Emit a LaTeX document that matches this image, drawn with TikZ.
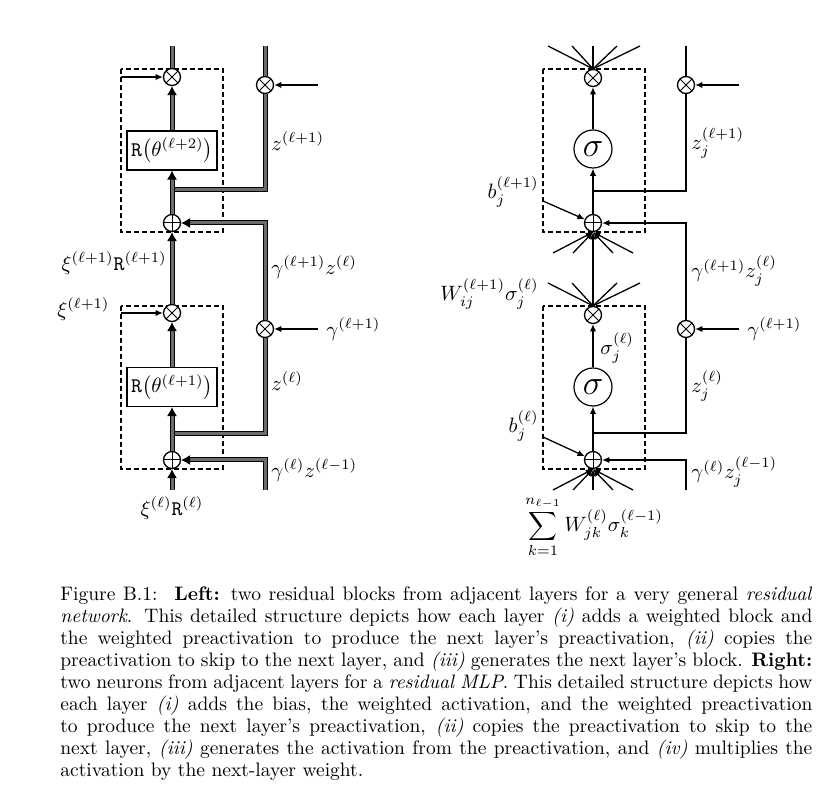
\RequirePackage{fix-cm}
\documentclass[tikz,border=0pt]{standalone}
\usepackage{fontspec}
\usetikzlibrary{arrows.meta}
\begin{document}
\begin{tikzpicture}[x=0.5pt,y=-0.5pt,
  thk/.style={draw=black, line width=0.5pt, double=gray!85!black, double distance=1.5pt},
  thn/.style={draw=black, line width=0.65pt},
  tipk/.style={-{Latex[length=4.5pt,width=5pt]}},
  tipn/.style={-{Latex[length=3.6pt,width=3.2pt]}},
  ox/.style={circle, draw, line width=0.65pt, minimum size=8.5pt, inner sep=0pt, fill=white,
    path picture={\draw[line width=0.5pt] (path picture bounding box.north west) -- (path picture bounding box.south east) (path picture bounding box.north east) -- (path picture bounding box.south west);}},
  op/.style={circle, draw, line width=0.65pt, minimum size=8.5pt, inner sep=0pt, fill=white,
    path picture={\draw[line width=0.5pt] (path picture bounding box.north) -- (path picture bounding box.south) (path picture bounding box.east) -- (path picture bounding box.west);}},
  sig/.style={circle, draw, line width=0.6pt, minimum size=19pt, inner sep=0pt, fill=white, font=\LARGE},
  rbox/.style={draw, line width=0.6pt, minimum width=45pt, minimum height=19.5pt, inner sep=0pt, fill=white, font=\fontsize{10.4}{12}\selectfont},
  dbox/.style={draw, line width=0.6pt, dash pattern=on 2.5pt off 1.5pt},
  lbl/.style={inner sep=0pt, font=\fontsize{10.4}{12}\selectfont},
  capt/.style={inner sep=0pt, text width=376pt, align=justify, font=\fontsize{9.75}{11}\selectfont}
]
\useasboundingbox (0,0) rectangle (836,807);

% ---------------- dashed boxes ----------------
\draw[dbox] (121,69) rectangle (223,232);
\draw[dbox] (121,306) rectangle (223,469);
\draw[dbox] (543,69) rectangle (645,232);
\draw[dbox] (543,306) rectangle (645,469);

% ---------------- left diagram: nodes ----------------
\node[ox] (lx1) at (172,77) {};
\node[ox] (lx2) at (265,85) {};
\node[rbox] (lR2) at (172,150.5) {$\mathtt{R}\bigl(\theta^{(\ell+2)}\bigr)$};
\node[op] (lp2) at (172,223) {};
\node[ox] (lx3) at (172,313) {};
\node[ox] (lx4) at (265,329) {};
\node[rbox] (lR1) at (172,387) {$\mathtt{R}\bigl(\theta^{(\ell+1)}\bigr)$};
\node[op] (lp1) at (172,460) {};

\coordinate (lt1) at (172,46);
\coordinate (lt2) at (265,46);
\coordinate (la1) at (121,77);
\coordinate (lb2) at (318,85);
\coordinate (lj2) at (172,190);
\coordinate (la3) at (121,313);
\coordinate (lb4) at (318,329);
\coordinate (lj1) at (172,434);
\coordinate (lbot1) at (172,490);
\coordinate (lbot2) at (265,490);

% branches first, main line over them
\draw[thk] (lj2) -| (lx2.south);
\draw[thk] (lj1) -| (lx4.south);
\draw[thk] (lx1.north) -- (lt1);
\draw[thk] (lx2.north) -- (lt2);
\draw[thk,tipk] (lR2.north) -- (lx1.south);
\draw[thk,tipk] (lp2.north) -- (lR2.south);
\draw[thk,tipk] (lx4.north) |- (lp2.east);
\draw[thk,tipk] (lx3.north) -- (lp2.south);
\draw[thk,tipk] (lR1.north) -- (lx3.south);
\draw[thk,tipk] (lp1.north) -- (lR1.south);
\draw[thk,tipk] (lbot2) |- (lp1.east);
\draw[thk,tipk] (lbot1) -- (lp1.south);

\draw[thn,tipn] (la1) -- (lx1.west);
\draw[thn,tipn] (lb2) -- (lx2.east);
\draw[thn,tipn] (la3) -- (lx3.west);
\draw[thn,tipn] (lb4) -- (lx4.east);

% left labels
\node[lbl, anchor=west] (lz2) at (271,141) {$z^{(\ell+1)}$};
\node[lbl, anchor=east] (lxr) at (167,263) {$\xi^{(\ell+1)}\mathtt{R}^{(\ell+1)}$};
\node[lbl, anchor=west] (lxi) at (57,309) {$\xi^{(\ell+1)}$};
\node[lbl, anchor=west] (lgz) at (271,267) {$\gamma^{(\ell+1)}z^{(\ell)}$};
\node[lbl, anchor=west] (lg) at (326,329) {$\gamma^{(\ell+1)}$};
\node[lbl, anchor=west] (lz1) at (271,381) {$z^{(\ell)}$};
\node[lbl, anchor=west] (lgz0) at (271,470) {$\gamma^{(\ell)}z^{(\ell-1)}$};
\node[lbl] (lxr0) at (172,508) {$\xi^{(\ell)}\mathtt{R}^{(\ell)}$};

% ---------------- right diagram: nodes ----------------
\node[ox] (rx1) at (593,78) {};
\node[ox] (rx2) at (686,85) {};
\node[sig] (rs2) at (593,149) {$\sigma$};
\node[op] (rp2) at (593,223) {};
\node[ox] (rx3) at (593,315) {};
\node[ox] (rx4) at (686,329) {};
\node[sig] (rs1) at (593,387) {$\sigma$};
\node[op] (rp1) at (593,460) {};

\coordinate (rtop2) at (686,46);
\coordinate (rb2in) at (739,85);
\coordinate (rj2) at (593,191);
\coordinate (rbb2) at (543,201);
\coordinate (rb4in) at (739,329);
\coordinate (rj1) at (593,433);
\coordinate (rbb1) at (543,437);
\coordinate (rbot2) at (686,490);

\foreach \x [count=\i] in {548,572,593,617,640} \coordinate (rt\i) at (\x,46);
\foreach \x [count=\i] in {553,573,613,633} \coordinate (ru\i) at (\x,253);
\foreach \x [count=\i] in {548,572,617,640} \coordinate (rw\i) at (\x,283);
\foreach \x [count=\i] in {553,573,593,613,633} \coordinate (rv\i) at (\x,490);

\foreach \i in {1,...,5} \draw[thn] (rx1.north) -- (rt\i);
\draw[thn] (rx2.north) -- (rtop2);
\draw[thn,tipn] (rb2in) -- (rx2.east);
\draw[thn,tipn] (rs2.north) -- (rx1.south);
\draw[thn,tipn] (rp2.north) -- (rs2.south);
\draw[thn] (rj2) -| (rx2.south);
\draw[thn,tipn] (rbb2) -- (rp2);
\draw[thn,tipn] (rx4.north) |- (rp2.east);
\foreach \i in {1,...,4} \draw[thn,tipn] (ru\i) -- (rp2.south);
\draw[thn,tipn] (rx3.north) -- (rp2.south);
\foreach \i in {1,...,4} \draw[thn] (rx3.north) -- (rw\i);
\draw[thn,tipn] (rs1.north) -- (rx3.south);
\draw[thn,tipn] (rb4in) -- (rx4.east);
\draw[thn,tipn] (rp1.north) -- (rs1.south);
\draw[thn] (rj1) -| (rx4.south);
\draw[thn,tipn] (rbb1) -- (rp1);
\draw[thn,tipn] (rbot2) |- (rp1.east);
\foreach \i in {1,...,5} \draw[thn,tipn] (rv\i) -- (rp1.south);

% right labels
\node[lbl, anchor=west] (rz2) at (691,143) {$z_j^{(\ell+1)}$};
\node[lbl, anchor=east] (rbl2) at (539,192) {$b_j^{(\ell+1)}$};
\node[lbl, anchor=east] (rwl) at (539,294) {$W_{ij}^{(\ell+1)}\sigma_j^{(\ell)}$};
\node[lbl, anchor=west] (rsl) at (600,348) {$\sigma_j^{(\ell)}$};
\node[lbl, anchor=west] (rgz) at (691,271) {$\gamma^{(\ell+1)}z_j^{(\ell)}$};
\node[lbl, anchor=west] (rg) at (747,329) {$\gamma^{(\ell+1)}$};
\node[lbl, anchor=west] (rz1) at (691,386) {$z_j^{(\ell)}$};
\node[lbl, anchor=east] (rbl1) at (539,426) {$b_j^{(\ell)}$};
\node[lbl, anchor=west] (rgz0) at (691,472) {$\gamma^{(\ell)}z_j^{(\ell-1)}$};
\node[lbl] (rsum) at (594,527) {$\displaystyle\sum_{k=1}^{n_{\ell-1}} W_{jk}^{(\ell)}\sigma_k^{(\ell-1)}$};

% ---------------- caption ----------------
\node[capt, anchor=north west] (cap) at (60,586) {Figure B.1:\hspace{3pt} \textbf{Left:} two residual blocks from adjacent layers for a very general \emph{residual}\linebreak
\emph{network}. This detailed structure depicts how each layer \emph{(i)} adds a weighted block and\linebreak
the weighted preactivation to produce the next layer's preactivation, \emph{(ii)} copies the\linebreak
preactivation to skip to the next layer, and \emph{(iii)} generates the next layer's block. \textbf{Right:}\linebreak
two neurons from adjacent layers for a \emph{residual MLP}. This detailed structure depicts how\linebreak
each layer \emph{(i)} adds the bias, the weighted activation, and the weighted preactivation\linebreak
to produce the next layer's preactivation, \emph{(ii)} copies the preactivation to skip to the\linebreak
next layer, \emph{(iii)} generates the activation from the preactivation, and \emph{(iv)} multiplies the\linebreak
activation by the next-layer weight.};
\end{tikzpicture}
\end{document}
